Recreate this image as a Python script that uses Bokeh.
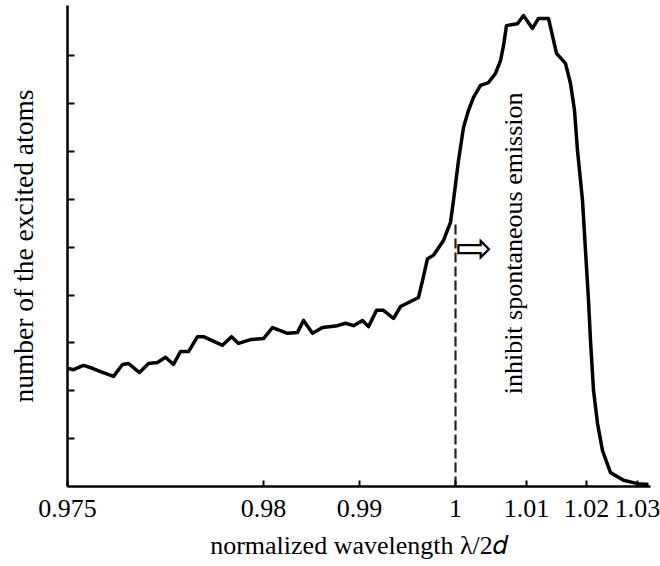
import math
from bokeh.plotting import figure
from bokeh.models import Label, Range1d, FixedTicker
from bokeh.embed import file_html
from bokeh.resources import INLINE

# scan position (arbitrary linear units along the recorded axis) and atom counts
x_pos = [0, 6, 16, 25, 33, 46, 55, 61, 72, 81, 90, 98, 106, 113, 121, 130, 136, 155, 164, 171,
         183, 196, 205, 220, 230, 236, 245, 255, 270, 278, 286, 295, 301, 309, 316, 326, 333,
         351, 355, 360, 366, 376, 383, 386, 391, 396, 401, 406, 413, 421, 428, 433, 436, 439,
         450, 456, 465, 471, 481, 489, 498, 503, 507, 510, 515, 518, 521, 523, 526, 530, 535,
         543, 556, 570, 581]
counts = [2.47, 2.44, 2.53, 2.47, 2.40, 2.30, 2.55, 2.57, 2.38, 2.57, 2.59, 2.70, 2.55, 2.82,
          2.82, 3.13, 3.13, 2.95, 3.13, 2.99, 3.07, 3.09, 3.32, 3.20, 3.22, 3.47, 3.20, 3.32,
          3.36, 3.41, 3.36, 3.47, 3.34, 3.68, 3.68, 3.51, 3.76, 3.95, 4.30, 4.76, 4.83, 5.14,
          5.52, 5.98, 6.81, 7.50, 7.86, 8.13, 8.38, 8.44, 8.63, 8.90, 9.21, 9.63, 9.67, 9.84,
          9.57, 9.78, 9.78, 9.05, 8.84, 8.42, 7.86, 7.02, 5.98, 4.93, 3.89, 3.05, 2.01, 1.32,
          0.75, 0.29, 0.13, 0.06, 0.04]

tick_pos = [0, 196, 292, 388, 459, 519, 570]
tick_labels = ["0.975", "0.98", "0.99", "1", "1.01", "1.02", "1.03"]
y_ticks = [1, 2, 3, 4, 5, 6, 7, 8, 9]

marker_x = 388      # position of lambda/2d = 1
marker_top = 5.5

SERIF = "Liberation Serif"
FS = "26px"

p = figure(width=660, height=566, output_backend="svg", toolbar_location=None,
           x_range=Range1d(0, 583), y_range=Range1d(0, 10.05),
           min_border_left=67, min_border_right=10, min_border_top=5, min_border_bottom=80)
p.outline_line_color = None
p.grid.visible = False
p.background_fill_color = "white"
p.border_fill_color = "white"

p.segment(x0=[marker_x], y0=[0], x1=[marker_x], y1=[marker_top],
          line_color="#222222", line_width=2.2, line_dash="10 4")
p.line(x_pos, counts, line_color="black", line_width=3.5, line_join="round")

# x axis
p.xaxis.ticker = FixedTicker(ticks=tick_pos)
p.xaxis.major_label_overrides = {t: l for t, l in zip(tick_pos, tick_labels)}
p.xaxis.major_tick_in = 6
p.xaxis.major_tick_out = 0
p.xaxis.minor_tick_line_color = None
p.xaxis.axis_line_width = 2.5
p.xaxis.major_tick_line_width = 2
p.xaxis.major_label_text_font = SERIF
p.xaxis.major_label_text_font_size = FS
p.xaxis.major_label_text_color = "black"
p.xaxis.major_label_standoff = 13
p.xaxis.axis_label = "normalized wavelength \u03bb/2\U0001D451"
p.xaxis.axis_label_text_font = SERIF
p.xaxis.axis_label_text_font_style = "normal"
p.xaxis.axis_label_text_font_size = FS
p.xaxis.axis_label_text_color = "black"
p.xaxis.axis_label_standoff = 11

# y axis (ticks without numbers)
p.yaxis.ticker = FixedTicker(ticks=y_ticks)
p.yaxis.major_label_overrides = {t: "" for t in y_ticks}
p.yaxis.major_tick_in = 7
p.yaxis.major_tick_out = 0
p.yaxis.minor_tick_line_color = None
p.yaxis.axis_line_width = 2.5
p.yaxis.major_tick_line_width = 2
p.yaxis.axis_label = "number of the excited atoms"
p.yaxis.axis_label_text_font = SERIF
p.yaxis.axis_label_text_font_style = "normal"
p.yaxis.axis_label_text_font_size = "27.5px"
p.yaxis.axis_label_text_color = "black"
p.yaxis.axis_label_standoff = 29

p.add_layout(Label(x=446, y=5.08, text="inhibit spontaneous emission", angle=math.pi / 2,
                   text_align="center", text_baseline="middle", text_font=SERIF,
                   text_font_size=FS, text_color="black"))
p.add_layout(Label(x=marker_x, y=5.0, text="\u21e8", text_align="left", text_baseline="middle",
                   text_font="DejaVu Sans", text_font_size="44px", text_color="black"))

open("out.html", "w").write(file_html(p, INLINE))
